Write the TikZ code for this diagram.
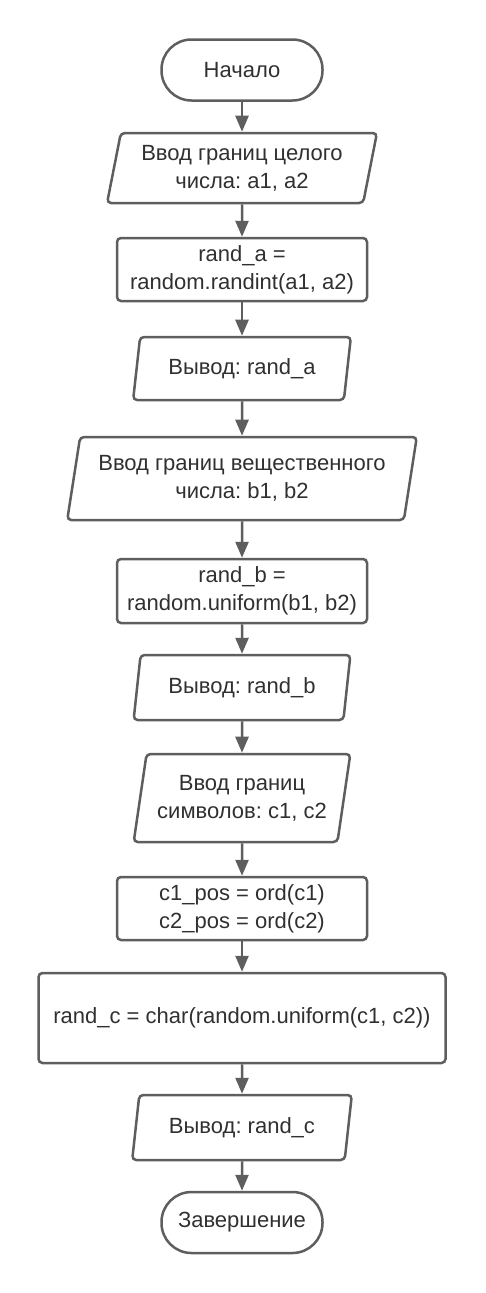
\documentclass[tikz,border=0pt]{standalone}
\usepackage{fontspec}
\setmainfont{Liberation Sans}
\usetikzlibrary{shapes.geometric,arrows.meta}
\definecolor{linegray}{HTML}{5E5E5E}
\definecolor{textgray}{HTML}{303030}
\frenchspacing
\begin{document}
\begin{tikzpicture}[x=1pt,y=-1pt]
		\tikzstyle{every node}=[font=\fontsize{22}{28}\selectfont,text=textgray,align=center,inner sep=0pt]
		\tikzstyle{term}=[draw=linegray,line width=2.5pt,rounded corners=30pt,minimum width=161pt,minimum height=61pt]
		\tikzstyle{proc}=[draw=linegray,line width=2.5pt,rounded corners=4pt,minimum width=250pt,minimum height=63pt]
		\tikzstyle{io}=[draw=linegray,line width=2.5pt,rounded corners=4pt,trapezium,trapezium left angle=76,trapezium right angle=104,trapezium stretches=true,minimum height=63pt]
		\tikzstyle{arr}=[draw=linegray,line width=2.5pt,-{Triangle[length=16pt,width=13pt]}]
		\useasboundingbox (0,0) rectangle (485,1293);
		\node[term] (start) at (242,70) {Начало};
		\node[io,minimum width=270pt,minimum height=70pt] (ina) at (242,168) {Ввод границ целого\\числа: a1, a2};
		\node[proc] (calca) at (242,269.5) {rand\_a =\\random.randint(a1, a2)};
		\node[io,minimum width=218pt] (outa) at (242,368.5) {Вывод: rand\_a};
		\node[io,minimum width=350pt,minimum height=83pt] (inb) at (242,478.5) {Ввод границ вещественного\\числа: b1, b2};
		\node[proc,minimum height=64pt] (calcb) at (242,591) {rand\_b =\\random.uniform(b1, b2)};
		\node[io,minimum width=217pt,minimum height=65pt] (outb) at (242,687.5) {Вывод: rand\_b};
		\node[io,minimum width=217pt,minimum height=88pt] (inc) at (242,798) {Ввод границ\\символов: c1, c2};
		\node[proc] (posc) at (242,908.5) {c1\_pos = ord(c1)\\c2\_pos = ord(c2)};
		\node[proc,minimum width=407pt,minimum height=90pt] (calcc) at (242,1018) {rand\_c = char(random.uniform(c1, c2))};
		\node[io,minimum width=220pt,minimum height=65pt] (outc) at (242,1127.5) {Вывод: rand\_c};
		\node[term] (stop) at (242,1222.5) {Завершение};
		\draw[arr] (start)--(ina);
		\draw[arr] (ina)--(calca);
		\draw[arr] (calca)--(outa);
		\draw[arr] (outa)--(inb);
		\draw[arr] (inb)--(calcb);
		\draw[arr] (calcb)--(outb);
		\draw[arr] (outb)--(inc);
		\draw[arr] (inc)--(posc);
		\draw[arr] (posc)--(calcc);
		\draw[arr] (calcc)--(outc);
		\draw[arr] (outc)--(stop);
	    \end{tikzpicture}
\end{document}
